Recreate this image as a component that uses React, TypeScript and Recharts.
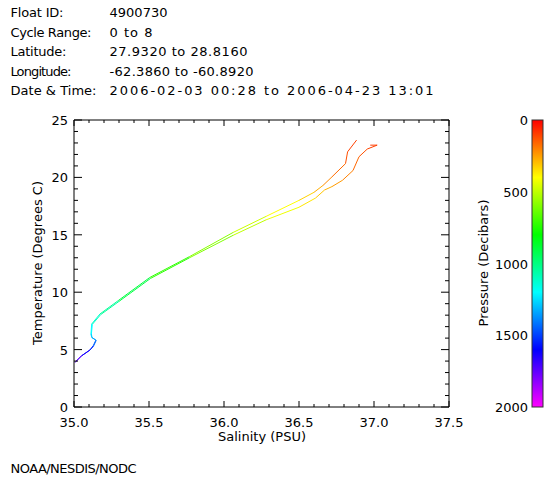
import React from 'react';
import { LineChart, Line, XAxis, YAxis, ReferenceLine } from 'recharts';

// ---------- header / annotation text ----------
const INFO_LABELS = ['Float ID:', 'Cycle Range:', 'Latitude:', 'Longitude:', 'Date & Time:'];
const INFO_VALUES = [
  '4900730',
  '0 to 8',
  '27.9320 to 28.8160',
  '-62.3860 to -60.8920',
  '2006-02-03 00:28 to 2006-04-23 13:01',
];
const FOOTER = 'NOAA/NESDIS/NODC';

// ---------- axis ticks ----------
const SAL_MAJOR = [35.0, 35.5, 36.0, 36.5, 37.0, 37.5];
const SAL_TICKS = Array.from({ length: 26 }, (_, i) => +(35 + i * 0.1).toFixed(1));
const TEMP_MAJOR = [0, 5, 10, 15, 20, 25];
const TEMP_TICKS = Array.from({ length: 26 }, (_, i) => i);
const PRESSURE_TICKS = [0, 500, 1000, 1500, 2000];

// ---------- profile A (cycle ending further left at surface) ----------
const salinityA = [36.884, 36.824, 36.81, 36.72, 36.66, 36.6, 36.5, 36.28, 36.06, 35.77, 35.505, 35.295, 35.173, 35.118, 35.113, 35.118, 35.146, 35.128, 35.106, 35.05, 35.007];
const temperatureA = [23.25, 22.23, 21.2, 20.05, 19.3, 18.7, 18.0, 16.6, 15.2, 13.1, 11.28, 9.27, 8.1, 7.23, 6.35, 6.06, 5.83, 5.33, 4.96, 4.46, 3.87];
const pressureA = [90, 110, 140, 190, 240, 300, 360, 440, 520, 650, 800, 1000, 1080, 1150, 1250, 1300, 1380, 1500, 1580, 1680, 1800];

// ---------- profile B ----------
const salinityB = [36.975, 37.021, 36.955, 36.9, 36.86, 36.79, 36.72, 36.67, 36.61, 36.5, 36.28, 36.06, 35.77, 35.51, 35.3, 35.178, 35.122, 35.116, 35.12, 35.148, 35.13, 35.105, 35.05, 35.01];
const temperatureB = [22.81, 22.81, 22.47, 21.8, 20.6, 19.75, 19.2, 18.9, 18.2, 17.4, 16.3, 14.95, 13.0, 11.2, 9.2, 8.05, 7.2, 6.35, 6.05, 5.8, 5.3, 4.95, 4.45, 3.95];
const pressureB = [90, 95, 110, 140, 180, 220, 260, 290, 330, 390, 460, 540, 660, 810, 1000, 1080, 1150, 1250, 1300, 1380, 1500, 1580, 1680, 1790];

const pressureColor = (p: number) => {
  const h = Math.max(0, Math.min(300, (p / 2000) * 300));
  return `hsl(${h.toFixed(1)},100%,50%)`;
};

const makeSegments = (s: number[], t: number[], p: number[]) => {
  const out: { data: { s: number; t: number }[]; color: string }[] = [];
  for (let i = 0; i < s.length - 1; i++) {
    out.push({
      data: [
        { s: s[i], t: t[i] },
        { s: s[i + 1], t: t[i + 1] },
      ],
      color: pressureColor((p[i] + p[i + 1]) / 2),
    });
  }
  return out;
};

const SEGMENTS = [
  ...makeSegments(salinityA, temperatureA, pressureA),
  ...makeSegments(salinityB, temperatureB, pressureB),
];

// ---------- layout ----------
const W = 560;
const H = 480;
const MARGIN = { top: 120, right: 111, bottom: 43, left: 34 };
const Y_AXIS_W = 40;
const X_AXIS_H = 30;
const PLOT_W = W - MARGIN.left - Y_AXIS_W - MARGIN.right;
const PLOT_H = H - MARGIN.top - MARGIN.bottom - X_AXIS_H;
const FONT = '"DejaVu Sans", sans-serif';

const XTick = (props: any) => {
  const { x, y, payload } = props;
  const v = payload.value as number;
  const major = SAL_MAJOR.some((m) => Math.abs(m - v) < 1e-6);
  const len = major ? 6 : 3;
  return (
    <g>
      <line x1={x} x2={x} y1={y} y2={y - len} stroke="#000" />
      <line x1={x} x2={x} y1={y - PLOT_H} y2={y - PLOT_H + len} stroke="#000" />
      {major && (
        <text x={x} y={y + 20} textAnchor="middle" fontFamily={FONT} fontSize={13} fill="#000">
          {v.toFixed(1)}
        </text>
      )}
    </g>
  );
};

const YTick = (props: any) => {
  const { x, y, payload } = props;
  const v = payload.value as number;
  const major = TEMP_MAJOR.includes(v);
  const len = major ? 8 : 4;
  return (
    <g>
      <line x1={x} x2={x + len} y1={y} y2={y} stroke="#000" />
      <line x1={x + PLOT_W} x2={x + PLOT_W - len} y1={y} y2={y} stroke="#000" />
      {major && (
        <text x={x - 6} y={y + 5} textAnchor="end" fontFamily={FONT} fontSize={13} fill="#000">
          {v}
        </text>
      )}
    </g>
  );
};

const HEADER_LABEL_LEN = [53, 81, 56, 61, 86];
const HEADER_VALUE_LEN = [58, 43, 138, 144, 324];

const CB_X = 532;
const CB_W = 11;
const CB_TOP = MARGIN.top;
const CB_H = PLOT_H;

export default function App() {
  const gradStops = Array.from({ length: 21 }, (_, i) => i / 20);
  return (
    <div style={{ position: 'absolute', left: 0, top: 0, width: W, height: H, background: '#fff' }}>
      <LineChart width={W} height={H} margin={MARGIN}>
        <XAxis
          type="number"
          dataKey="s"
          domain={[35, 37.5]}
          ticks={SAL_TICKS}
          interval={0}
          allowDataOverflow
          height={X_AXIS_H}
          tickSize={0}
          tickMargin={0}
          tickLine={false}
          tick={<XTick />}
          axisLine={{ stroke: '#000' }}
        />
        <YAxis
          type="number"
          dataKey="t"
          domain={[0, 25]}
          ticks={TEMP_TICKS}
          interval={0}
          allowDataOverflow
          width={Y_AXIS_W}
          tickSize={0}
          tickMargin={0}
          tickLine={false}
          tick={<YTick />}
          axisLine={{ stroke: '#000' }}
        />
        <ReferenceLine y={25} stroke="#000" />
        <ReferenceLine x={37.5} stroke="#000" />
        {SEGMENTS.map((seg, i) => (
          <Line
            key={i}
            data={seg.data}
            dataKey="t"
            type="linear"
            stroke={seg.color}
            strokeWidth={1}
            dot={false}
            activeDot={false}
            isAnimationActive={false}
          />
        ))}
      </LineChart>
      <svg
        width={W}
        height={H}
        style={{ position: 'absolute', left: 0, top: 0, pointerEvents: 'none' }}
        fontFamily={FONT}
        fontSize={13}
      >
        <defs>
          <linearGradient id="pgrad" x1="0" y1="0" x2="0" y2="1">
            {gradStops.map((f) => (
              <stop key={f} offset={f} stopColor={pressureColor(f * 2000)} />
            ))}
          </linearGradient>
        </defs>
        {INFO_LABELS.map((l, i) => (
          <text key={l} x={10.5} y={17 + i * 19.5} textLength={HEADER_LABEL_LEN[i]} lengthAdjust="spacing">
            {l}
          </text>
        ))}
        {INFO_VALUES.map((v, i) => (
          <text key={v} x={109.5} y={17 + i * 19.5} textLength={HEADER_VALUE_LEN[i]} lengthAdjust="spacing">
            {v}
          </text>
        ))}
        <text x={262} y={441} textAnchor="middle">Salinity (PSU)</text>
        <text x={0} y={0} textAnchor="middle" transform={`translate(42,263) rotate(-90)`}>
          Temperature (Degrees C)
        </text>
        <text x={0} y={0} textAnchor="middle" transform={`translate(488,263) rotate(-90)`}>
          Pressure (Decibars)
        </text>
        <rect x={CB_X} y={CB_TOP} width={CB_W} height={CB_H} fill="url(#pgrad)" stroke="#333" strokeWidth={1} />
        {PRESSURE_TICKS.map((p) => (
          <text key={p} x={528} y={CB_TOP + (p / 2000) * CB_H + 5} textAnchor="end">
            {p}
          </text>
        ))}
        <text x={10.5} y={473} textLength={126} lengthAdjust="spacing">{FOOTER}</text>
      </svg>
    </div>
  );
}
